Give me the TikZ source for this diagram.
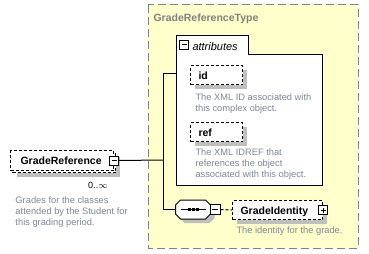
\documentclass[tikz,border=0pt]{standalone}
\usepackage{fontspec}
\setmainfont{Liberation Sans}
\usetikzlibrary{shadows}

\definecolor{typefill}{RGB}{255,255,204}
\definecolor{typeline}{RGB}{128,128,128}
\definecolor{doccol}{RGB}{126,134,150}

\tikzset{
    elembase/.style = {draw, dash pattern=on 3pt off 2pt, fill=white, anchor=north west,
        inner xsep=8pt, inner ysep=0pt, minimum height=19pt, text height=8pt, text depth=0pt,
        align=left, font={\bfseries\fontsize{10.5}{12}\selectfont}},
    gshadow/.style = {drop shadow={shadow xshift=4pt, shadow yshift=-4pt, fill=black!25, opacity=1}},
    elem/.style = {elembase, gshadow},
    doc/.style = {anchor=north west, inner sep=0pt, align=left, text=doccol, font={\fontsize{9.3}{11}\selectfont}},
    minusbox/.style = {draw, solid, fill=white, minimum size=9pt, inner sep=0pt,
        path picture={\draw ([xshift=2pt]path picture bounding box.west) -- ([xshift=-2pt]path picture bounding box.east);}},
    plusbox/.style = {draw, solid, fill=white, minimum size=9pt, inner sep=0pt,
        path picture={\draw ([xshift=2pt]path picture bounding box.west) -- ([xshift=-2pt]path picture bounding box.east);
                      \draw ([yshift=2pt]path picture bounding box.south) -- ([yshift=-2pt]path picture bounding box.north);}},
    seqbox/.style = {minimum width=34pt, minimum height=18pt, inner sep=0pt}
}

\begin{document}
\begin{tikzpicture}[x=1pt, y=-1pt, line width=1pt]
    \fill[white] (0,0) rectangle (369,254);
    \useasboundingbox (0,0) rectangle (369,254);

    % complex type
    \draw[fill=typefill, draw=typeline, dash pattern=on 8pt off 4pt] (148,5) rectangle (358,248);
    \node[anchor=base west, inner sep=0pt, text=typeline, font={\bfseries\fontsize{10.5}{12}\selectfont}] (typename) at (153,22) {GradeReferenceType};

    % attribute group
    \draw[fill=white] (176,185) -- (176,36) -- (248,36) -- (248,55) -- (322,55) -- (322,185) -- cycle;
    \node[minusbox] (attrsw) at (184,45) {};
    \node[anchor=base west, inner sep=0pt, font={\itshape\fontsize{11}{13}\selectfont}] (attrname) at (192,51) {attributes};
    \coordinate (attrin) at (176,73);

    \node[elem, text width=36pt] (idbox) at (190,65) {id};
    \node[doc] (iddoc) at (195,93.3) {The XML ID associated with\\this complex object.};

    \node[elem, text width=36pt] (refbox) at (190,122) {ref};
    \node[doc] (refdoc) at (195,148.3) {The XML IDREF that\\references the object\\associated with this object.};

    % sequence
    \node[seqbox] (seq) at (193,209.5) {};
    \draw[fill=white, gshadow] ([xshift=5pt]seq.north west) -- ([xshift=-5pt]seq.north east)
        -- ([yshift=-5pt]seq.north east) -- ([yshift=5pt]seq.south east)
        -- ([xshift=-5pt]seq.south east) -- ([xshift=5pt]seq.south west)
        -- ([yshift=5pt]seq.south west) -- ([yshift=-5pt]seq.north west) -- cycle;
    \draw ([xshift=5pt]seq.west) -- ([xshift=-5pt]seq.east);
    \foreach \dx in {-4,0,4}
        \fill ([xshift=\dx pt]seq.center) +(-1.5,-1.5) rectangle +(1.5,1.5);
    \node[minusbox, minimum size=10pt] (seqsw) at (215,209.5) {};

    \node[elem, text width=74pt] (gid) at (232,200) {GradeIdentity};
    \node[plusbox] (gidsw) at (gid.east) {};
    \node[doc] (giddoc) at (236,226.3) {The identity for the grade.};

    % element
    \node[elem, text width=83pt, inner xsep=10pt, minimum height=20pt] (grefback) at (12,152) {};
    \node[elembase, text width=83pt, inner xsep=10pt, minimum height=20pt] (gref) at (10,150) {GradeReference};
    \node[minusbox] (grefsw) at (gref.east) {};
    \node[anchor=base east, inner sep=0pt, font={\fontsize{9}{11}\selectfont}] (grefocc) at (108,188) {0..$\infty$};
    \node[doc] (grefdoc) at (15,196.3) {Grades for the classes\\attended by the Student for\\this grading period.};

    % connectors
    \coordinate (fork) at (163,160);
    \coordinate (forktop) at (163,73);
    \coordinate (forkbot) at (163,209.5);
    \draw (grefsw.east) -- (fork);
    \draw (forktop) -- (forkbot);
    \draw (forktop) -- (attrin);
    \draw (forkbot) -- (seq.west);
    \draw[dash pattern=on 3pt off 2pt] (seqsw.east) -- (gid.west);
\end{tikzpicture}
\end{document}
